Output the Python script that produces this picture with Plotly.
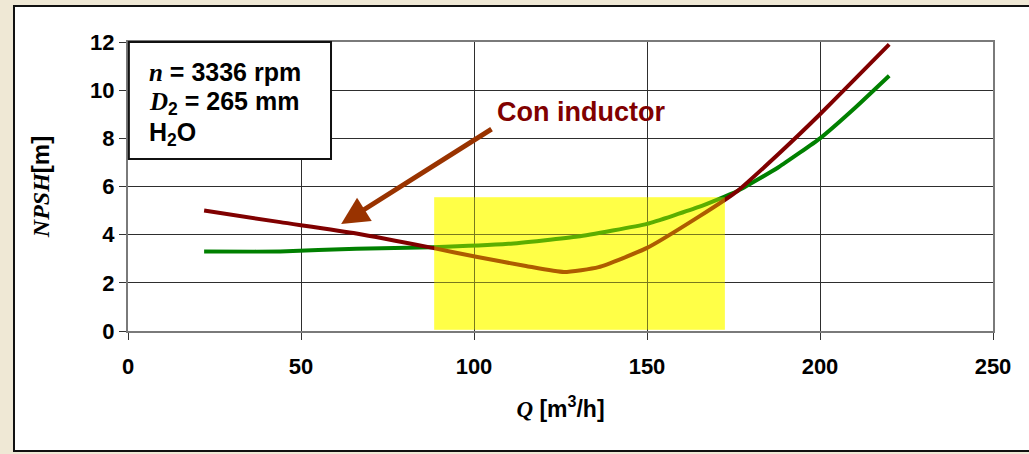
import plotly.graph_objects as go

# NPSH curves, Q in m3/h, NPSH in m
q_std = [22, 44, 66, 88, 110, 130, 150, 165, 176, 188, 200, 210, 220]
npsh_std = [3.3, 3.3, 3.42, 3.48, 3.62, 3.92, 4.45, 5.15, 5.8, 6.8, 8.0, 9.25, 10.6]

q_ind = [22, 44, 66, 88, 101, 115, 126, 136, 150, 165, 176, 188, 200, 210, 220]
npsh_ind = [5.0, 4.52, 4.05, 3.45, 3.07, 2.7, 2.45, 2.65, 3.45, 4.75, 5.8, 7.35, 9.0, 10.45, 11.9]

# highlighted operating range
zone_q = [88.5, 172.5]
zone_npsh = [0.05, 5.55]

x_ticks = [0, 50, 100, 150, 200, 250]
y_ticks = [0, 2, 4, 6, 8, 10, 12]

SANS = "Liberation Sans, Arial, sans-serif"


def it(s):
    return f"<span style=\"font-family:'Liberation Serif';font-style:italic\">{s}</span>"


fig = go.Figure()
fig.add_trace(go.Scatter(x=q_std, y=npsh_std, mode="lines",
                         line=dict(color="#008000", width=4, shape="spline", smoothing=0.4),
                         hoverinfo="skip", showlegend=False))
fig.add_trace(go.Scatter(x=q_ind, y=npsh_ind, mode="lines",
                         line=dict(color="#800000", width=4, shape="spline", smoothing=0.5),
                         hoverinfo="skip", showlegend=False))

axis_common = dict(showgrid=True, gridcolor="#2e2e2e", gridwidth=1,
                   showline=True, linecolor="#7a7a7a", linewidth=2, mirror=True,
                   ticks="outside", ticklen=7, tickcolor="#333", tickwidth=1,
                   zeroline=False,
                   tickfont=dict(family=SANS, size=22, color="black", weight="bold"))

fig.update_xaxes(range=[0, 250], tickvals=x_ticks, ticklabelstandoff=8, **axis_common,
                 title=dict(text=f"<b>{it('Q')} [m<sup>3</sup>/h]</b>",
                            font=dict(family=SANS, size=23, color="black"), standoff=22))
fig.update_yaxes(range=[0, 12], tickvals=y_ticks, **axis_common,
                 title=dict(text=f"<b>{it('NPSH')}[m]</b>",
                            font=dict(family=SANS, size=24, color="black"), standoff=34))

zone = dict(type="rect", xref="x", yref="y", x0=zone_q[0], x1=zone_q[1],
            y0=zone_npsh[0], y1=zone_npsh[1], line=dict(width=0))

shapes = [
    # outer white panel
    dict(type="rect", xref="paper", yref="paper", x0=-0.1318, x1=1.15, y0=-0.4152, y1=1.1246,
         fillcolor="white", line=dict(color="#111", width=2), layer="below"),
    # highlighted range: pale base under the grid plus a thin wash over the curves
    dict(zone, fillcolor="#FFFF70", layer="below"),
    dict(zone, fillcolor="rgba(255,255,0,0.36)", layer="above"),
    # info box
    dict(type="rect", xref="paper", yref="paper", x0=0.001, x1=0.2347, y0=0.595, y1=1.0,
         fillcolor="white", line=dict(color="#111", width=2), layer="above"),
]

annotations = [
    dict(xref="paper", yref="paper", x=0.022, y=0.895, xanchor="left", yanchor="middle", showarrow=False,
         text=f"<b>{it('n')} = 3336 rpm</b>", font=dict(family=SANS, size=25, color="black")),
    dict(xref="paper", yref="paper", x=0.022, y=0.79, xanchor="left", yanchor="middle", showarrow=False,
         text=f"<b>{it('D')}<sub>2</sub> = 265 mm</b>", font=dict(family=SANS, size=25, color="black")),
    dict(xref="paper", yref="paper", x=0.022, y=0.68, xanchor="left", yanchor="middle", showarrow=False,
         text="<b>H<sub>2</sub>O</b>", font=dict(family=SANS, size=25, color="black")),
    dict(x=61.6, y=4.44, ax=105.5, ay=8.42, xref="x", yref="y", axref="x", ayref="y",
         showarrow=True, arrowhead=2, arrowsize=1.1, arrowwidth=5, arrowcolor="#993300",
         standoff=0, text=""),
    dict(xref="paper", yref="paper", x=0.424, y=0.757, xanchor="left", yanchor="middle", showarrow=False,
         text="<b>Con inductor</b>", font=dict(family=SANS, size=27, color="#800000")),
]

fig.update_layout(width=1029, height=454,
                  margin=dict(l=128, r=36, t=42, b=123),
                  paper_bgcolor="#EFE8D5", plot_bgcolor="white",
                  shapes=shapes, annotations=annotations, showlegend=False)

fig.write_html("out.html")
